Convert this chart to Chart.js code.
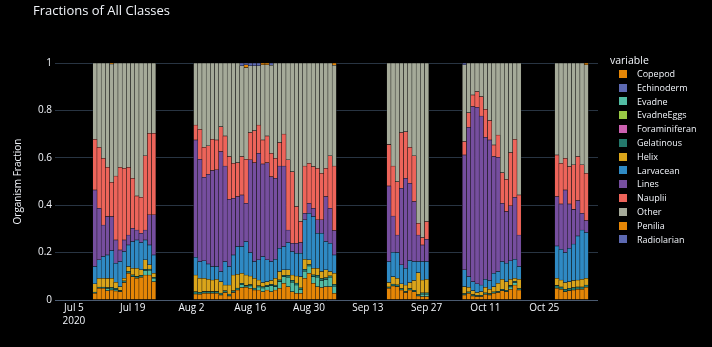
<!DOCTYPE html>
<html>
<head>
<meta charset="utf-8">
<script src="https://cdn.jsdelivr.net/npm/chart.js@4.4.1/dist/chart.umd.min.js"></script>
<style>
  html, body { margin: 0; padding: 0; background: #000000; }
  #wrap { position: relative; width: 712px; height: 347px; font-family: "Open Sans", sans-serif; color: #f2f5fa; }
  #chart { position: absolute; left: 0; top: 0; }
  #title { position: absolute; left: 33px; top: 3px; font-size: 13px; line-height: 15px; white-space: nowrap; }
  #legend { position: absolute; left: 610px; top: 53px; }
  .legend-title { font-size: 10.5px; height: 14px; line-height: 14px; }
  .legend-item { position: relative; height: 13.8px; line-height: 13.8px; font-size: 9px; padding-left: 27px; white-space: nowrap; }
  .legend-item .sw { position: absolute; left: 8.5px; top: 2.9px; width: 8px; height: 8px; }
</style>
</head>
<body>
<div id="wrap">
  <canvas id="chart" width="712" height="347"></canvas>
  <div id="title">Fractions of All Classes</div>
  <div id="legend"></div>
</div>
<script>
// one bar per sampled day, five sampling runs
const dates = [
  "2020-07-10", "2020-07-11", "2020-07-12", "2020-07-13", "2020-07-14", "2020-07-15", "2020-07-16", "2020-07-17",
  "2020-07-18", "2020-07-19", "2020-07-20", "2020-07-21", "2020-07-22", "2020-07-23", "2020-07-24",
  "2020-08-03", "2020-08-04", "2020-08-05", "2020-08-06", "2020-08-07", "2020-08-08", "2020-08-09", "2020-08-10",
  "2020-08-11", "2020-08-12", "2020-08-13", "2020-08-14", "2020-08-15", "2020-08-16", "2020-08-17", "2020-08-18",
  "2020-08-19", "2020-08-20", "2020-08-21", "2020-08-22", "2020-08-23", "2020-08-24", "2020-08-25", "2020-08-26",
  "2020-08-27", "2020-08-28", "2020-08-29", "2020-08-30", "2020-08-31", "2020-09-01", "2020-09-02", "2020-09-03",
  "2020-09-04", "2020-09-05",
  "2020-09-18", "2020-09-19", "2020-09-20", "2020-09-21", "2020-09-22", "2020-09-23", "2020-09-24", "2020-09-25",
  "2020-09-26", "2020-09-27",
  "2020-10-06", "2020-10-07", "2020-10-08", "2020-10-09", "2020-10-10", "2020-10-11", "2020-10-12", "2020-10-13",
  "2020-10-14", "2020-10-15", "2020-10-16", "2020-10-17", "2020-10-18", "2020-10-19",
  "2020-10-28", "2020-10-29", "2020-10-30", "2020-10-31", "2020-11-01", "2020-11-02", "2020-11-03", "2020-11-04"
];

const copepod = [
  .028, .049, .049, .039, .042, .038, .035, .073, .113, .098, .091, .096, .105, .105, .077,
  .025, .024, .028, .028, .028, .028, .021, .031, .017, .031, .042, .052, .053, .049, .042, .042, .035,
  .042, .035, .042, .049, .070, .056, .035, .028, .028, .091, .113, .070, .056, .052, .056, .056, .028,
  .049, .059, .056, .042, .031, .042, .035, .017, .014, .014,
  .021, .028, .017, .014, .014, .024, .021, .028, .031, .039, .035, .045, .063, .042,
  .049, .045, .035, .039, .042, .045, .045, .053
];
const echinoderm = [];
const evadne = [
  0, 0, 0, .008, 0, .006, 0, 0, 0, 0, 0, 0, .018, .020, .014,
  0, 0, 0, 0, 0, 0, 0, 0, 0, 0, 0, .012, 0, .010, 0, .012, .015,
  .014, .025, .015, .028, .028, .040, .040, .035, .015, .030, .030, .028, .040, .030, .030, .040, .030,
  0, 0, 0, 0, 0, 0, 0, 0, .010, .010,
  0, 0, 0, 0, 0, 0, 0, 0, 0, 0, 0, .010, .010, 0,
  0, 0, 0, 0, 0, 0, 0, 0
];
const evadneEggs = [];
const foraminiferan = [];
const gelatinous = [
  .005, .005, .005, .005, .010, .005, .005, .008, .008, .008, .008, .008, .006, .005, .005,
  .010, .008, .008, .008, .008, .008, .008, .008, .008, .008, .008, .006, .008, .006, .008, .006, .006,
  .006, .006, .006, .008, .006, .008, .008, .008, .008, .008, .006, .008, .008, .008, .008, .006, .008,
  .006, .008, .008, .006, .006, .006, .006, .006, .006, .006,
  .006, .006, .006, .006, .006, .006, .006, .006, .006, .006, .006, .006, .006, .006,
  .012, .010, .010, .010, .010, .010, .010, .010
];
const helix = [
  .035, .037, .037, .039, .039, .026, .016, .010, .020, .028, .035, .023, .040, .018, .017,
  .070, .059, .055, .051, .048, .051, .048, .024, .038, .066, .058, .043, .044, .036, .041, .024, .017,
  .015, .016, .028, .035, .023, .023, .022, .030, .047, .043, .020, .028, .030, .030, .033, .018, .047,
  .018, .031, .027, .020, .026, .025, .041, .092, .054, .057,
  .029, .019, .016, .011, .015, .023, .018, .022, .033, .042, .036, .026, .012, .039,
  .030, .029, .028, .028, .030, .029, .032, .028
];
const larvacean = [
  .073, .078, .092, .099, .117, .080, .106, .113, .091, .112, .119, .115, .084, .084, .077,
  .075, .071, .074, .065, .057, .054, .043, .099, .078, .085, .117, .112, .141, .099, .071, .085, .110,
  .092, .080, .081, .098, .098, .115, .099, .096, .099, .166, .197, .218, .147, .161, .119, .119, .077,
  .089, .103, .109, .080, .071, .093, .080, .047, .078, .075,
  .071, .045, .038, .037, .028, .034, .037, .057, .050, .075, .078, .078, .081, .054,
  .137, .130, .127, .141, .154, .186, .208, .193
];
const lines = [
  .323, .218, .133, .162, .144, .098, .049, .049, .042, .056, .042, .039, .042, .127, .169,
  .495, .432, .353, .378, .405, .408, .506, .403, .284, .239, .211, .218, .162, .391, .417, .450, .391,
  .410, .358, .341, .347, .340, .053, .035, .042, .045, .028, .042, .035, .057, .057, .190, .148, .103,
  .319, .153, .074, .323, .379, .326, .253, .112, .070, .094,
  .485, .631, .739, .745, .713, .599, .593, .492, .482, .246, .218, .232, .261, .133,
  .208, .191, .264, .187, .146, .149, .071, .051
];
const nauplii = [
  .214, .257, .282, .208, .144, .270, .349, .303, .286, .211, .144, .152, .313, .344, .344,
  .063, .126, .126, .120, .132, .126, .105, .127, .180, .148, .143, .162, .186, .115, .135, .119, .101,
  .113, .099, .085, .099, .135, .296, .302, .155, .089, .199, .169, .176, .218, .196, .120, .221, .272,
  .175, .211, .225, .235, .197, .152, .193, .049, .031, .075,
  .056, .061, .049, .066, .082, .118, .082, .049, .094, .129, .136, .225, .245, .169,
  .176, .172, .134, .158, .188, .186, .204, .199
];
const other = [
  .322, .356, .402, .440, .499, .477, .440, .444, .440, .487, .561, .567, .392, .297, .297,
  .262, .280, .356, .350, .322, .325, .269, .308, .395, .423, .421, .383, .386, .282, .274, .250, .317,
  .300, .371, .402, .336, .300, .409, .459, .606, .669, .435, .423, .437, .444, .466, .444, .392, .425,
  .344, .435, .501, .294, .290, .356, .392, .677, .737, .669,
  .324, .210, .135, .121, .142, .196, .243, .346, .304, .463, .491, .378, .322, .557,
  .388, .423, .402, .437, .430, .395, .430, .458
];
const penilia = [
  0, 0, 0, 0, .005, 0, 0, 0, 0, 0, 0, 0, 0, 0, 0,
  0, 0, 0, 0, 0, 0, 0, 0, 0, 0, 0, 0, .012, 0, 0, 0, .008,
  .008, 0, 0, 0, 0, 0, 0, 0, 0, 0, 0, 0, 0, 0, 0, 0, .010,
  0, 0, 0, 0, 0, 0, 0, 0, 0, 0,
  0, 0, 0, 0, 0, 0, 0, 0, 0, 0, 0, 0, 0, 0,
  0, 0, 0, 0, 0, 0, 0, .008
];
const radiolarian = [
  0, 0, 0, 0, 0, 0, 0, 0, 0, 0, 0, 0, 0, 0, 0,
  0, 0, 0, 0, 0, 0, 0, 0, 0, 0, 0, .012, .008, .012, .012, .012, 0,
  0, .010, 0, 0, 0, 0, 0, 0, 0, 0, 0, 0, 0, 0, 0, 0, 0,
  0, 0, 0, 0, 0, 0, 0, 0, 0, 0,
  .008, 0, 0, 0, 0, 0, 0, 0, 0, 0, 0, 0, 0, 0,
  0, 0, 0, 0, 0, 0, 0, 0
];

const tickDates = ["2020-07-05", "2020-07-19", "2020-08-02", "2020-08-16", "2020-08-30",
  "2020-09-13", "2020-09-27", "2020-10-11", "2020-10-25"];
const tickLabels = [["Jul 5", "2020"], "Jul 19", "Aug 2", "Aug 16", "Aug 30",
  "Sep 13", "Sep 27", "Oct 11", "Oct 25"];
const yTickLabels = ["0", "0.2", "0.4", "0.6", "0.8", "1"];

const classes = [
  { name: "Copepod", values: copepod, color: "rgb(229, 134, 6)" },
  { name: "Echinoderm", values: echinoderm, color: "rgb(93, 105, 177)" },
  { name: "Evadne", values: evadne, color: "rgb(82, 188, 163)" },
  { name: "EvadneEggs", values: evadneEggs, color: "rgb(153, 201, 69)" },
  { name: "Foraminiferan", values: foraminiferan, color: "rgb(204, 97, 176)" },
  { name: "Gelatinous", values: gelatinous, color: "rgb(36, 121, 108)" },
  { name: "Helix", values: helix, color: "rgb(218, 165, 27)" },
  { name: "Larvacean", values: larvacean, color: "rgb(47, 138, 196)" },
  { name: "Lines", values: lines, color: "rgb(118, 78, 159)" },
  { name: "Nauplii", values: nauplii, color: "rgb(237, 100, 90)" },
  { name: "Other", values: other, color: "rgb(165, 170, 153)" },
  { name: "Penilia", values: penilia, color: "rgb(229, 134, 6)" },
  { name: "Radiolarian", values: radiolarian, color: "rgb(93, 105, 177)" }
];

const BG = "#000000";
const TEXT = "#f2f5fa";
const DAY0 = Date.parse("2020-07-05");
const toDay = (s) => (Date.parse(s) - DAY0) / 86400000;

const datasets = classes.map((c) => ({
  label: c.name,
  data: dates.map((d, i) => ({ x: toDay(d), y: c.values[i] ?? 0 })),
  backgroundColor: c.color,
  borderColor: "#111111",
  borderWidth: 0.5,
  borderSkipped: false
}));

new Chart(document.getElementById("chart"), {
  type: "bar",
  data: { datasets },
  options: {
    responsive: false,
    animation: false,
    layout: { padding: { left: 0, right: 114, top: 63, bottom: 0 } },
    datasets: { bar: { barPercentage: 1, categoryPercentage: 1 } },
    plugins: { legend: { display: false }, tooltip: { enabled: false } },
    scales: {
      x: {
        type: "linear",
        stacked: true,
        min: -4.5,
        max: 124.8,
        offset: false,
        grid: { display: false, drawTicks: false, offset: false },
        border: { display: false },
        afterBuildTicks: (axis) => {
          axis.ticks = tickDates.map((d) => ({ value: toDay(d) }));
        },
        afterFit: (axis) => { axis.height = 47; },
        ticks: {
          autoSkip: false,
          maxRotation: 0,
          padding: 1.5,
          color: TEXT,
          font: { family: "Open Sans", size: 10, lineHeight: 1.3 },
          callback: (value, index) => tickLabels[index]
        }
      },
      y: {
        stacked: true,
        min: 0,
        max: 1,
        grid: {
          drawTicks: false,
          lineWidth: 1,
          color: (ctx) => (ctx.tick && ctx.tick.value === 0 ? "#4a5a70" : "#283442")
        },
        border: { display: false },
        afterFit: (axis) => { axis.width = 55; },
        ticks: {
          stepSize: 0.2,
          padding: 3,
          color: TEXT,
          font: { family: "Open Sans", size: 10 },
          callback: (value, index) => yTickLabels[index]
        },
        title: {
          display: true,
          text: "Organism Fraction",
          color: TEXT,
          font: { family: "Open Sans", size: 10 },
          padding: { top: 12, bottom: 0 }
        }
      }
    }
  }
});

const legend = document.getElementById("legend");
legend.innerHTML = '<div class="legend-title">variable</div>' + classes
  .map((c) => `<div class="legend-item"><span class="sw" style="background:${c.color}"></span>${c.name}</div>`)
  .join("");
</script>
</body>
</html>
